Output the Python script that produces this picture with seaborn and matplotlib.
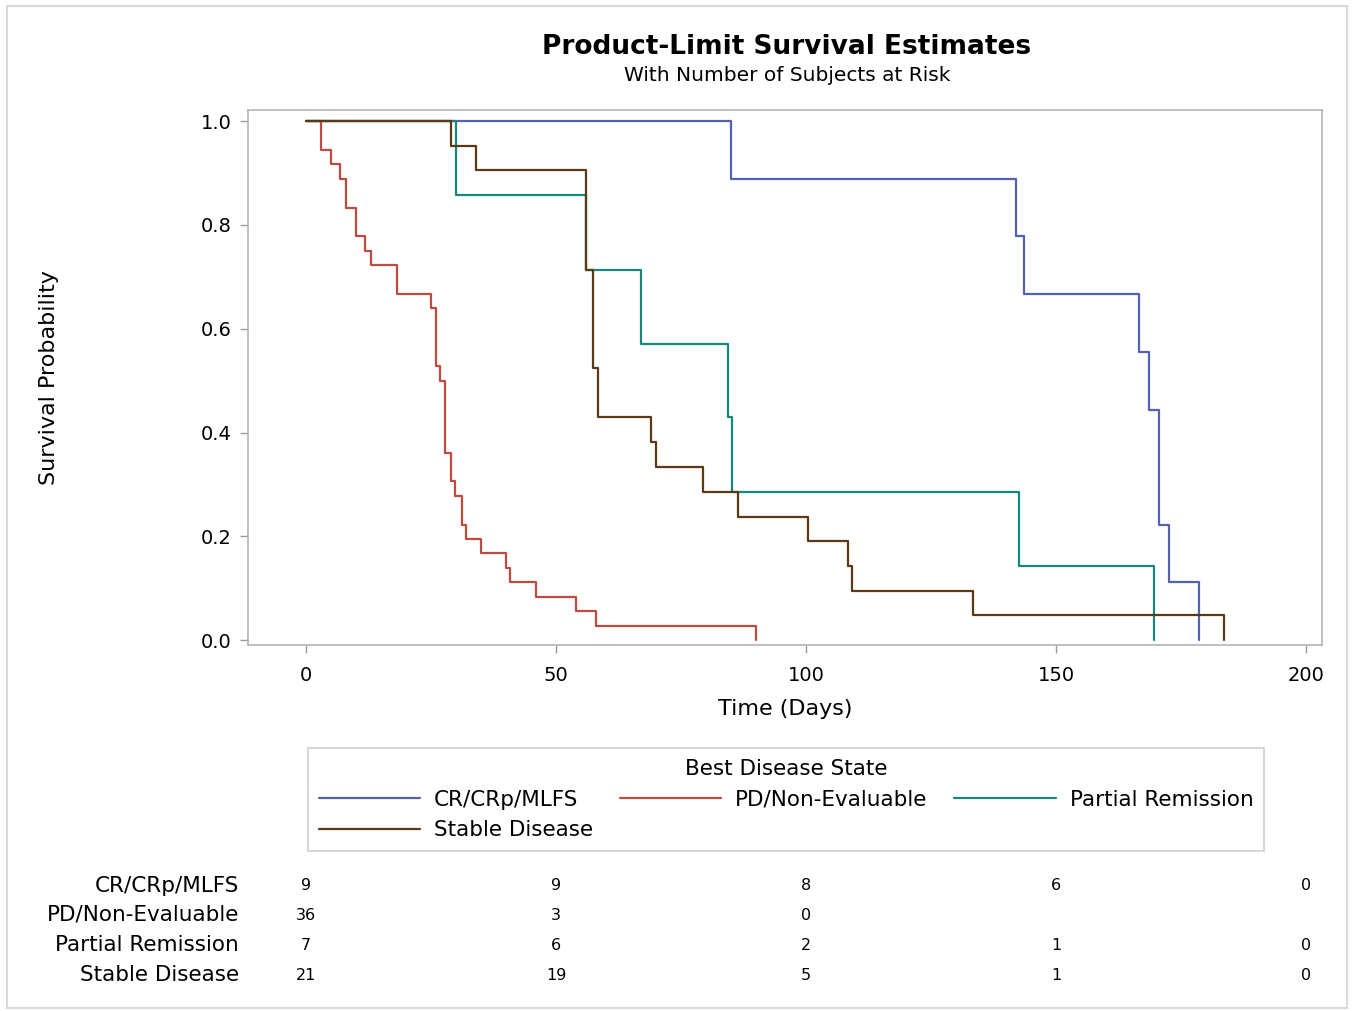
import matplotlib.pyplot as plt
import seaborn as sns
import pandas as pd
from matplotlib.patches import Rectangle
from matplotlib.transforms import blended_transform_factory

# Kaplan-Meier step data (time in days, survival level after the step)
groups = ['CR/CRp/MLFS', 'PD/Non-Evaluable', 'Partial Remission', 'Stable Disease']
colors = ['#5363b2', '#bf4a3f', '#16877a', '#5a3a14']

cr_days = [0, 85, 142, 143.5, 166.5, 168.5, 170.5, 172.5, 178.5]
cr_surv = [1.0, 0.889, 0.778, 0.667, 0.556, 0.444, 0.222, 0.111, 0.0]

pd_days = [0, 3, 5, 6.8, 8, 10, 11.7, 13, 18.2, 25, 26, 26.8, 27.8, 29, 29.8,
           31.2, 32, 35, 40, 40.8, 46, 54, 58, 90]
pd_surv = [1.0, 0.944, 0.917, 0.889, 0.833, 0.778, 0.75, 0.722, 0.667, 0.639,
           0.528, 0.5, 0.361, 0.306, 0.278, 0.222, 0.194, 0.167, 0.139, 0.111,
           0.083, 0.056, 0.028, 0.0]

pr_days = [0, 30, 56, 67, 84.3, 85.2, 142.5, 169.5]
pr_surv = [1.0, 0.857, 0.714, 0.571, 0.429, 0.286, 0.143, 0.0]

sd_days = [0, 29, 34, 56, 57.4, 58.3, 69, 70, 79.3, 86.3, 100.3, 108.3, 109.2,
           133.3, 183.5]
sd_surv = [1.0, 0.952, 0.905, 0.714, 0.524, 0.429, 0.381, 0.333, 0.286, 0.238,
           0.190, 0.143, 0.095, 0.048, 0.0]

# number at risk
risk_times = [0, 50, 100, 150, 200]
cr_risk = ['9', '9', '8', '6', '0']
pd_risk = ['36', '3', '0', '', '']
pr_risk = ['7', '6', '2', '1', '0']
sd_risk = ['21', '19', '5', '1', '0']

sns.set_style('white')
plt.rcParams['font.family'] = ['DejaVu Sans']
plt.rcParams['axes.unicode_minus'] = False
plt.rcParams['text.color'] = 'black'
plt.rcParams['axes.labelcolor'] = 'black'
plt.rcParams['xtick.labelcolor'] = 'black'
plt.rcParams['ytick.labelcolor'] = 'black'

frames = []
for g, d, s in zip(groups, [cr_days, pd_days, pr_days, sd_days],
                   [cr_surv, pd_surv, pr_surv, sd_surv]):
    frames.append(pd.DataFrame({'time': d, 'surv': s, 'group': g}))
df = pd.concat(frames, ignore_index=True)

fig = plt.figure(figsize=(13.53, 10.11), dpi=100)
ax = fig.add_axes([0.1833, 0.362, 0.7938, 0.529])

sns.lineplot(data=df, x='time', y='surv', hue='group', hue_order=groups,
             palette=colors, estimator=None, sort=False, drawstyle='steps-post',
             linewidth=1.6, legend=False, ax=ax)

ax.set_xlim(-11.6, 203.2)
ax.set_ylim(-0.0096, 1.0212)
ax.set_xticks(risk_times)
ax.set_yticks([0.0, 0.2, 0.4, 0.6, 0.8, 1.0])
ax.set_yticklabels(['0.0', '0.2', '0.4', '0.6', '0.8', '1.0'])
ax.tick_params(axis='both', labelsize=14, length=6, width=1, color='#9a9a9a',
               direction='out', pad=6)
ax.tick_params(axis='x', pad=9)
ax.tick_params(left=True, bottom=True)
for sp in ax.spines.values():
    sp.set_color('#b4b4b4')
    sp.set_linewidth(1.2)
ax.set_xlabel('Time (Days)', fontsize=16, labelpad=10)
ax.set_ylabel('Survival Probability', fontsize=16, labelpad=0)
ax.yaxis.set_label_coords(-0.176, 0.5, transform=ax.transAxes)

fig.text(0.5815, 0.954, 'Product-Limit Survival Estimates', ha='center',
         va='center', fontsize=19, fontweight='bold')
fig.text(0.5815, 0.925, 'With Number of Subjects at Risk', ha='center',
         va='center', fontsize=14.5)

# legend is filled row by row in the reference; matplotlib fills by column
order = [0, 3, 1, 2]
handles = [plt.Line2D([], [], color=colors[i], linewidth=1.6) for i in order]
labels = [groups[i] for i in order]
leg = fig.legend(handles, labels, title='Best Disease State', ncol=3,
                 loc='upper center', bbox_to_anchor=(0.581, 0.2601),
                 borderaxespad=0, fontsize=15.5, title_fontsize=15.5,
                 handlelength=4.7, handletextpad=0.65, columnspacing=1.25,
                 labelspacing=0.5, borderpad=0.5, frameon=True, fancybox=False)
leg.get_frame().set_edgecolor('#c4c4c4')
leg.get_frame().set_linewidth(1.2)

# at-risk table
trans = blended_transform_factory(ax.transData, fig.transFigure)
row_y = [1 - 886 / 1011, 1 - 915 / 1011, 1 - 945 / 1011, 1 - 975 / 1011]
for g, risks, y in zip(groups, [cr_risk, pd_risk, pr_risk, sd_risk], row_y):
    fig.text(0.1766, y, g, ha='right', va='center', fontsize=15.5)
    for t, r in zip(risk_times, risks):
        ax.text(t, y, r, transform=trans, ha='center', va='center',
                fontsize=11.5, clip_on=False)

fig.patches.append(Rectangle((0.0055, 0.003), 0.99, 0.991, transform=fig.transFigure,
                             fill=False, edgecolor='#d9d9d9', linewidth=1.5))

fig.savefig('out.png', dpi=100)
